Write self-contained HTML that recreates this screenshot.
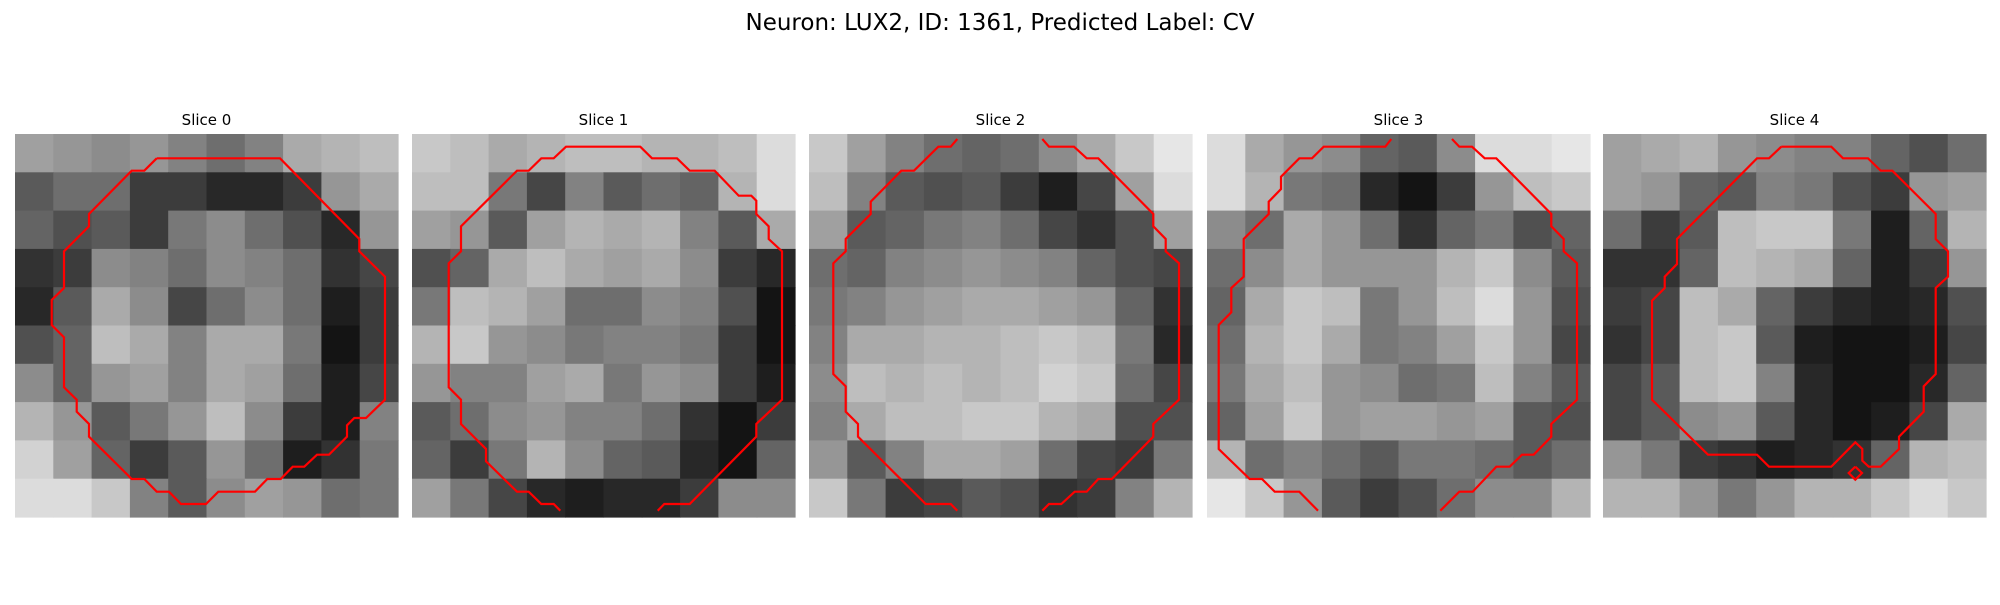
<!DOCTYPE html>
<html><head><meta charset="utf-8"><style>
body{margin:0;background:#fff;width:2000px;height:600px;overflow:hidden;font-family:"Liberation Sans","DejaVu Sans",sans-serif}
</style></head><body>
<svg id="fig" width="2000" height="600" xmlns="http://www.w3.org/2000/svg">
<text x="1000" y="30" text-anchor="middle" font-size="23" font-family="DejaVu Sans, Liberation Sans, sans-serif" fill="#000">Neuron: LUX2, ID: 1361, Predicted Label: CV</text>
</svg>
<script>
const sliceTitles=["Slice 0","Slice 1","Slice 2","Slice 3","Slice 4"];
const panelX=[15,412,809,1207,1603];
const slice0=[[160,150,140,150,130,110,130,170,180,190],[90,110,110,60,60,40,40,60,150,170],[100,80,90,60,120,140,110,80,40,150],[50,60,140,130,110,140,130,110,50,70],[40,90,170,140,70,110,140,110,30,60],[80,100,190,170,130,170,170,120,20,60],[140,100,150,160,130,170,160,110,30,70],[180,150,90,120,150,190,140,60,30,130],[210,160,100,60,90,150,110,30,50,120],[220,220,200,130,90,140,160,150,110,120]];
const slice1=[[200,190,170,180,190,190,180,180,190,220],[190,190,120,70,130,90,110,100,180,220],[160,150,90,160,180,170,180,130,90,170],[80,100,170,190,170,160,170,140,60,40],[120,190,180,160,110,110,140,130,80,20],[180,200,150,140,120,130,130,120,60,20],[150,130,130,160,170,120,150,140,60,30],[90,110,140,150,130,130,110,50,20,60],[100,60,120,180,140,100,90,40,20,100],[160,120,70,40,30,40,40,60,140,140]];
const slice2=[[200,160,130,110,100,110,140,170,200,230],[190,130,90,80,90,60,30,70,160,220],[160,90,100,120,130,110,70,50,80,160],[110,100,130,140,150,140,130,100,80,70],[120,130,150,160,170,170,160,150,100,50],[130,170,170,180,180,190,200,190,120,40],[140,190,180,190,180,190,210,200,110,70],[130,170,190,190,200,200,180,170,80,80],[150,90,130,170,170,160,110,70,60,120],[200,120,60,70,90,80,50,60,130,180]];
const slice3=[[220,170,150,140,100,90,140,220,220,230],[220,180,120,110,40,20,60,150,190,200],[140,110,170,150,110,50,100,120,80,100],[110,140,170,150,150,150,180,200,140,90],[100,170,200,190,120,150,190,220,150,80],[110,180,200,170,120,130,160,200,150,70],[120,170,190,150,140,110,120,190,130,90],[100,160,200,150,160,160,150,160,90,80],[180,110,130,110,90,120,120,110,90,110],[230,200,150,90,60,80,110,140,140,180]];
const slice4=[[160,170,180,150,140,130,130,100,80,110],[160,150,100,90,130,120,80,60,150,160],[110,60,90,190,200,200,120,30,100,180],[50,50,100,190,180,170,100,30,60,150],[60,70,190,170,100,60,40,30,40,80],[50,70,190,200,90,30,20,20,30,70],[70,90,190,200,130,40,20,20,40,100],[70,90,140,150,90,40,20,30,70,170],[150,120,60,50,30,40,50,100,180,190],[180,180,150,120,150,180,180,200,220,200]];
const slices=[slice0,slice1,slice2,slice3,slice4];
const contours=[
[[[425,73],[795,73],[1033,315],[1033,352],[1110,428],[1110,797],[1053,852],[1018,852],[996,874],[996,908],[942,962],[906,962],[868,998],[833,998],[797,1035],[757,1035],[720,1073],[610,1073],[573,1110],[498,1110],[462,1073],[425,1073],[388,1035],[350,1035],[222,908],[222,870],[185,833],[185,797],[147,760],[147,610],[110,573],[110,498],[147,462],[147,352],[222,277],[222,240],[350,110],[388,110],[425,73]]],
[[[445,1130],[425,1110],[388,1110],[350,1073],[315,1073],[222,982],[222,945],[147,870],[147,797],[110,760],[110,388],[147,352],[147,277],[315,110],[350,110],[388,73],[425,73],[462,38],[685,38],[720,73],[795,73],[833,110],[908,110],[980,185],[1018,185],[1033,200],[1033,240],[1070,277],[1070,315],[1110,352],[1110,797],[1033,870],[1033,908],[833,1110],[757,1110],[737,1130]]],
[[[445,15],[425,38],[388,38],[315,110],[277,110],[185,203],[185,240],[110,315],[110,352],[73,388],[73,720],[110,757],[110,833],[147,870],[147,908],[350,1110],[425,1110],[445,1130]],[[700,15],[720,38],[795,38],[833,73],[868,73],[1033,240],[1033,277],[1070,315],[1070,352],[1110,388],[1110,797],[1033,870],[1033,908],[908,1035],[868,1035],[833,1073],[797,1073],[757,1110],[720,1110],[700,1130]]],
[[[553,15],[535,38],[350,38],[315,73],[277,73],[222,128],[222,165],[185,203],[185,240],[110,315],[110,428],[73,462],[73,535],[35,573],[35,945],[128,1035],[165,1035],[203,1073],[277,1073],[333,1130]],[[735,15],[757,38],[795,38],[833,73],[868,73],[1033,240],[1033,277],[1070,315],[1070,352],[1110,388],[1110,797],[1033,870],[1033,908],[980,962],[945,962],[908,998],[868,998],[797,1073],[757,1073],[700,1130]]],
[[[535,38],[685,38],[720,73],[795,73],[833,110],[868,110],[998,240],[998,315],[1035,352],[1035,428],[998,462],[998,720],[962,757],[962,833],[888,908],[888,945],[833,998],[797,998],[778,980],[778,945],[757,925],[685,998],[498,998],[462,962],[315,962],[147,797],[147,500],[185,462],[185,428],[222,390],[222,315],[462,73],[498,73],[535,38]],[[757,998],[777,1017],[757,1037],[737,1017],[757,998]]]
];
const NS="http://www.w3.org/2000/svg";
const svg=document.getElementById('fig');
const panelY=134, panelS=383, ref=1149;
slices.forEach((grid,si)=>{
  const g=document.createElementNS(NS,'g');
  
  
  svg.appendChild(g);
  const n=grid.length, cs=panelS/n;
  grid.forEach((row,r)=>row.forEach((v,c)=>{
    const rc=document.createElementNS(NS,'rect');
    
    
    rc.setAttribute('x',(panelX[si]+c*cs).toFixed(2));
    rc.setAttribute('y',(panelY+r*cs).toFixed(2));
    rc.setAttribute('width',(cs+0.6).toFixed(2));
    rc.setAttribute('height',(cs+0.6).toFixed(2));
    rc.setAttribute('fill','rgb('+v+','+v+','+v+')');
    g.appendChild(rc);
  }));
  contours[si].forEach(pts=>{
    const pl=document.createElementNS(NS,'polyline');
    
    
    pl.setAttribute('points',pts.map(p=>(panelX[si]+p[0]*panelS/ref).toFixed(1)+','+(panelY+p[1]*panelS/ref).toFixed(1)).join(' '));
    pl.setAttribute('fill','none');
    pl.setAttribute('stroke','#ff0000');
    pl.setAttribute('stroke-width','2.2');
    g.appendChild(pl);
  });
  const t=document.createElementNS(NS,'text');
  
  
  t.setAttribute('x',panelX[si]+panelS/2);
  t.setAttribute('y',125);
  t.setAttribute('text-anchor','middle');
  t.setAttribute('font-size','15');
  t.setAttribute('font-family','DejaVu Sans, Liberation Sans, sans-serif');
  t.textContent=sliceTitles[si];
  svg.appendChild(t);
});
</script>
</body></html>
